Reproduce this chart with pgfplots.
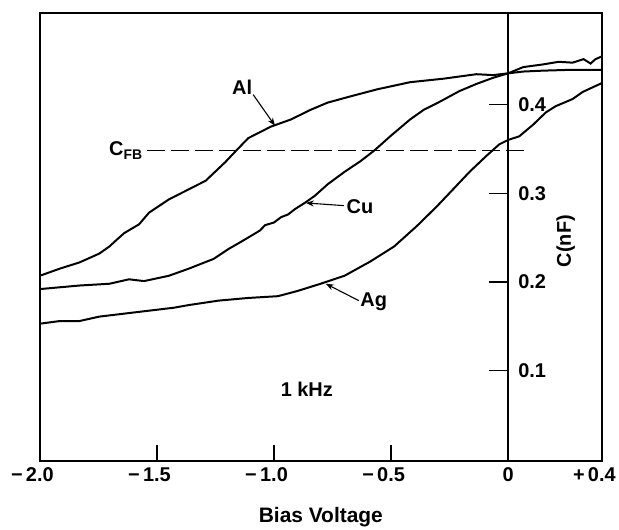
\documentclass[border=0pt]{standalone}
\usepackage{pgfplots}
\pgfplotsset{compat=1.18}
\usepackage{pgfplotstable}
\usepackage{fontspec}
\setmainfont{Liberation Sans}
\usetikzlibrary{arrows.meta}

% C-V curves (V, C in nF)
\pgfplotstableread{
V C
-2.000 0.207
-1.915 0.215
-1.831 0.222
-1.746 0.232
-1.703 0.240
-1.674 0.247
-1.640 0.255
-1.576 0.265
-1.534 0.278
-1.449 0.293
-1.419 0.297
-1.292 0.314
-1.208 0.335
-1.165 0.347
-1.110 0.362
-1.013 0.375
-0.928 0.383
-0.843 0.394
-0.771 0.402
-0.674 0.409
-0.559 0.417
-0.419 0.425
-0.275 0.429
-0.136 0.434
-0.064 0.433
0.000 0.435
0.064 0.437
0.148 0.438
0.275 0.439
0.400 0.439
}\alcurve

\pgfplotstableread{
V C
-2.000 0.192
-1.831 0.196
-1.703 0.198
-1.619 0.203
-1.555 0.201
-1.449 0.207
-1.364 0.215
-1.258 0.226
-1.195 0.237
-1.123 0.248
-1.060 0.258
-1.038 0.264
-1.000 0.267
-0.970 0.273
-0.940 0.276
-0.911 0.282
-0.869 0.289
-0.826 0.297
-0.771 0.310
-0.699 0.324
-0.631 0.336
-0.572 0.348
-0.504 0.364
-0.419 0.383
-0.360 0.394
-0.292 0.403
-0.208 0.415
-0.136 0.423
-0.064 0.430
0.000 0.435
0.064 0.442
0.148 0.445
0.216 0.448
0.275 0.447
0.322 0.451
0.352 0.446
0.373 0.451
0.400 0.454
}\cucurve

\pgfplotstableread{
V C
-2.000 0.153
-1.915 0.156
-1.831 0.156
-1.746 0.161
-1.619 0.165
-1.428 0.171
-1.364 0.174
-1.237 0.179
-1.110 0.182
-0.983 0.184
-0.898 0.190
-0.801 0.198
-0.699 0.207
-0.589 0.223
-0.487 0.240
-0.390 0.263
-0.305 0.285
-0.233 0.305
-0.165 0.324
-0.093 0.342
-0.038 0.355
0.000 0.360
0.047 0.364
0.106 0.377
0.161 0.391
0.203 0.398
0.275 0.406
0.318 0.414
0.400 0.424
}\agcurve

\begin{document}
\begin{tikzpicture}[
  lbl/.style={font=\fontsize{20}{20}\selectfont\bfseries, inner sep=0pt},
  ann/.style={line width=1.1pt, -{Stealth[length=8pt, width=6pt]}}]
\begin{axis}[
  width=564pt, height=450pt, scale only axis,
  xmin=-2, xmax=0.4, ymin=-0.002, ymax=0.503,
  axis line style={line width=2pt},
  xtick={-2,-1.5,-1,-0.5,0,0.4},
  xticklabels={\llap{−\,}2.0,\llap{−\,}1.5,\llap{−\,}1.0,\llap{−\,}0.5,0,\llap{+\,}0.4},
  xtick pos=bottom, tick align=inside, major tick length=16pt,
  tick style={line width=1.2pt, black},
  ytick=\empty,
  xticklabel style={font=\fontsize{20}{20}\selectfont\bfseries, yshift=-3pt},
  clip=false,
]
\addplot[black, line width=2pt] table[x=V, y=C] {\alcurve};
\addplot[black, line width=2pt] table[x=V, y=C] {\cucurve};
\addplot[black, line width=2pt] table[x=V, y=C] {\agcurve};
% flat-band capacitance
\addplot[black, line width=1.2pt, dash pattern=on 18pt off 6pt] coordinates {(-1.542,0.348) (0.089,0.348)};

% y axis at V = 0
\draw[line width=2pt] (axis cs:0,-0.002) -- (axis cs:0,0.503);
\draw[line width=1.2pt] ([xshift=-19pt]axis cs:0,0.1) -- (axis cs:0,0.1);
\draw[line width=1.2pt] ([xshift=-19pt]axis cs:0,0.2) -- (axis cs:0,0.2);
\draw[line width=1.2pt] ([xshift=-19pt]axis cs:0,0.3) -- (axis cs:0,0.3);
\draw[line width=1.2pt] ([xshift=-19pt]axis cs:0,0.4) -- (axis cs:0,0.4);
\node[lbl, anchor=west] at ([xshift=10pt]axis cs:0,0.1) {0.1};
\node[lbl, anchor=west] at ([xshift=10pt]axis cs:0,0.2) {0.2};
\node[lbl, anchor=west] at ([xshift=10pt]axis cs:0,0.3) {0.3};
\node[lbl, anchor=west] at ([xshift=10pt]axis cs:0,0.4) {0.4};
\node[lbl, rotate=90] at (axis cs:0.246,0.246) {C(nF)};

% annotations
\node[lbl, anchor=base] at (axis cs:-1.136,0.411) {Al};
\draw[ann] (axis cs:-1.089,0.411) -- (axis cs:-0.996,0.376);
\node[lbl, anchor=base] at (axis cs:-0.633,0.277) {Cu};
\draw[ann] (axis cs:-0.702,0.286) -- (axis cs:-0.864,0.289);
\node[lbl, anchor=base] at (axis cs:-0.574,0.172) {Ag};
\draw[ann] (axis cs:-0.638,0.179) -- (axis cs:-0.779,0.198);
\node[lbl, anchor=base east] at (axis cs:-1.562,0.342) {C\raisebox{-0.3ex}{\fontsize{14}{14}\selectfont FB}};
\node[lbl, anchor=base] at (axis cs:-0.860,0.071) {1 kHz};

\node[lbl, font=\fontsize{21}{21}\selectfont\bfseries, anchor=base] at ([yshift=-61pt]rel axis cs:0.5,0) {Bias Voltage};
% page extent of the reference
\path ([shift={(-40pt,-68pt)}]rel axis cs:0,0) rectangle ([shift={(15pt,13pt)}]rel axis cs:1,1);
\end{axis}
\end{tikzpicture}
\end{document}
